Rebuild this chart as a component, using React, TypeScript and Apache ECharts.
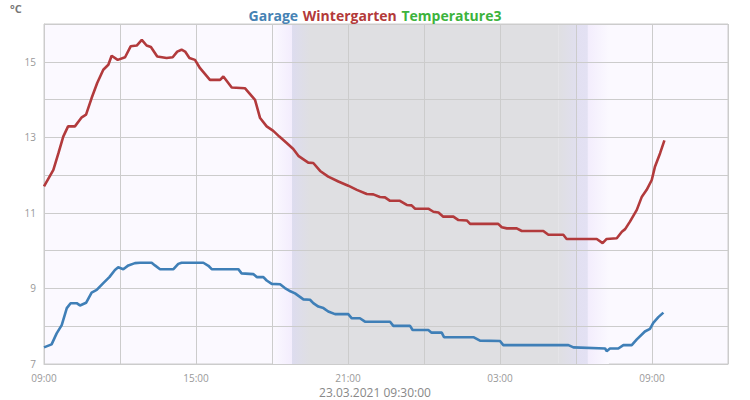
import * as echarts from "echarts"
import { useEffect, useRef } from "react"

const START = Date.UTC(2021, 2, 22, 9, 0)
const END = Date.UTC(2021, 2, 23, 12, 0)
const HOUR = 3_600_000

const seriesNames = ["Garage", "Wintergarten", "Temperature3"]
const timestampLabel = "23.03.2021 09:30:00"

// hours after 22.03. 09:00
const garageHours = [
  0, 0.3, 0.5, 0.7, 0.9, 1.05, 1.29, 1.42, 1.66, 1.88, 2.08, 2.34, 2.58, 2.8,
  2.93, 3.13, 3.33, 3.59, 3.79, 4.25, 4.38, 4.58, 5.11, 5.3, 5.43, 6.29, 6.49,
  6.62, 7.67, 7.8, 8.26, 8.4, 8.66, 8.79, 8.99, 9.32, 9.51, 9.68, 9.91, 10.24,
  10.5, 10.63, 10.83, 11.03, 11.22, 11.49, 12.01, 12.15, 12.47, 12.67, 13.66,
  13.79, 14.45, 14.55, 15.17, 15.3, 15.7, 15.79, 16.95, 17.21, 18.0, 18.13,
  20.7, 20.9, 22.15, 22.21, 22.34, 22.67, 22.87, 23.2, 23.4, 23.72, 23.92,
  24.05, 24.25, 24.45,
]
const garageTemps = [
  7.44, 7.52, 7.81, 8.03, 8.48, 8.61, 8.61, 8.55, 8.62, 8.89, 8.96, 9.14, 9.3,
  9.49, 9.56, 9.51, 9.61, 9.67, 9.68, 9.68, 9.61, 9.51, 9.51, 9.65, 9.68, 9.68,
  9.6, 9.51, 9.51, 9.4, 9.38, 9.3, 9.3, 9.21, 9.12, 9.11, 9.01, 8.94, 8.87,
  8.71, 8.7, 8.61, 8.52, 8.48, 8.39, 8.32, 8.32, 8.21, 8.21, 8.12, 8.12, 8.01,
  8.01, 7.9, 7.9, 7.83, 7.83, 7.71, 7.71, 7.62, 7.61, 7.5, 7.5, 7.44, 7.41,
  7.34, 7.41, 7.41, 7.5, 7.5, 7.65, 7.86, 7.93, 8.09, 8.24, 8.36,
]

const wintergartenHours = [
  0, 0.37, 0.57, 0.76, 0.95, 1.22, 1.49, 1.66, 1.88, 2.1, 2.34, 2.54, 2.67,
  2.91, 3.2, 3.42, 3.66, 3.86, 4.05, 4.22, 4.47, 4.84, 5.08, 5.26, 5.43, 5.57,
  5.74, 5.96, 6.16, 6.55, 6.95, 7.08, 7.41, 7.93, 8.1, 8.33, 8.53, 8.79, 9.05,
  9.29, 9.58, 9.84, 10.04, 10.43, 10.63, 10.9, 11.22, 11.62, 12.01, 12.35,
  12.74, 13.0, 13.26, 13.46, 13.66, 14.05, 14.32, 14.51, 14.65, 15.17, 15.37,
  15.57, 15.76, 16.16, 16.36, 16.69, 16.82, 17.93, 18.07, 18.27, 18.66, 18.86,
  19.71, 19.91, 20.5, 20.63, 21.82, 22.05, 22.21, 22.61, 22.81, 22.94, 23.13,
  23.4, 23.6, 23.79, 23.99, 24.12, 24.32, 24.49,
]
const wintergartenTemps = [
  11.7, 12.14, 12.58, 13.02, 13.29, 13.29, 13.53, 13.6, 14.04, 14.44, 14.79,
  14.92, 15.16, 15.05, 15.12, 15.41, 15.43, 15.58, 15.43, 15.39, 15.14, 15.1,
  15.12, 15.27, 15.32, 15.27, 15.1, 15.05, 14.83, 14.52, 14.52, 14.61, 14.32,
  14.3, 14.17, 13.99, 13.51, 13.29, 13.17, 13.02, 12.85, 12.69, 12.51, 12.33,
  12.32, 12.11, 11.96, 11.83, 11.72, 11.61, 11.5, 11.49, 11.42, 11.41, 11.32,
  11.32, 11.21, 11.2, 11.11, 11.11, 11.03, 11.01, 10.9, 10.9, 10.81, 10.8,
  10.71, 10.71, 10.62, 10.59, 10.59, 10.52, 10.52, 10.42, 10.42, 10.31, 10.31,
  10.2, 10.31, 10.33, 10.5, 10.57, 10.77, 11.08, 11.43, 11.61, 11.87, 12.23,
  12.58, 12.92,
]

// night shading: [fromHour, toHour, leftColor, rightColor]
const nightBands: [number, number, string, string][] = [
  [9, 9.79, "#fbf9ff", "#f3edfd"],
  [9.79, 10.5, "#dddcef", "#dfdfe2"],
  [10.5, 20.3, "#dfdfe2", "#dfdfe2"],
  [20.3, 21, "#dfdfe2", "#e0dfee"],
  [21, 21.47, "#e2e0f2", "#e3e1f3"],
  [21.47, 22.3, "#f3edfd", "#fbf9ff"],
]

const toPoints = (hours: number[], temps: number[]) =>
  hours.map((h, i) => [START + h * HOUR, temps[i]])

const pad = (n: number) => String(n).padStart(2, "0")

const FONT = "'Open Sans', sans-serif"

export default function App() {
  const node = useRef<HTMLDivElement>(null)

  useEffect(() => {
    if (!node.current) return
    const chart = echarts.init(node.current, undefined, { renderer: "svg" })
    chart.setOption({
      animation: false,
      textStyle: { fontFamily: FONT },
      title: {
        text: `{a|${seriesNames[0]}} {b|${seriesNames[1]}} {c|${seriesNames[2]}}`,
        left: "center",
        top: 1,
        textStyle: {
          rich: {
            a: { color: "#4682b4", fontSize: 14, fontWeight: "bold", fontFamily: FONT },
            b: { color: "#b33a3a", fontSize: 14, fontWeight: "bold", fontFamily: FONT },
            c: { color: "#3cb33c", fontSize: 14, fontWeight: "bold", fontFamily: FONT },
          },
        },
      },
      graphic: [
        {
          type: "text",
          left: 10,
          top: 3,
          style: { text: "°C", fill: "#777", font: `bold 11px ${FONT}` },
        },
        {
          type: "text",
          left: "center",
          top: 386,
          style: { text: timestampLabel, fill: "#888", font: `12px ${FONT}` },
        },
      ],
      grid: {
        left: 44,
        right: 22,
        top: 24,
        bottom: 36,
        show: true,
        backgroundColor: "#fbf9ff",
        borderColor: "#cccccc",
        borderWidth: 1,
      },
      xAxis: {
        type: "value",
        min: START,
        max: END,
        interval: 3 * HOUR,
        z: 3,
        axisLine: { lineStyle: { color: "#cccccc" } },
        axisTick: { show: false },
        axisLabel: {
          color: "#999",
          fontSize: 10,
          margin: 8,
          lineHeight: 11,
          showMaxLabel: false,
          formatter: (v: number) => {
            const d = new Date(v)
            const h = d.getUTCHours()
            if ((h - 9 + 24) % 6 !== 0) return ""
            return `${pad(h)}:${pad(d.getUTCMinutes())}`
          },
        },
        splitLine: { show: true, lineStyle: { color: "#cccccc" } },
      },
      yAxis: {
        type: "value",
        min: 7,
        max: 16,
        interval: 1,
        z: 3,
        axisLine: { show: true, lineStyle: { color: "#cccccc" } },
        axisTick: { show: false },
        axisLabel: {
          color: "#999",
          fontSize: 10,
          lineHeight: 11,
          margin: 8,
          formatter: (v: number) => (v % 2 === 1 ? String(v) : ""),
        },
        splitLine: { lineStyle: { color: "#cccccc" } },
      },
      series: [
        {
          name: seriesNames[2],
          type: "line",
          z: 1,
          data: [],
          silent: true,
          markArea: {
            silent: true,
            data: nightBands.map(([from, to, c1, c2]) => [
              {
                xAxis: START + from * HOUR,
                yAxis: 7,
                itemStyle: {
                  color: new echarts.graphic.LinearGradient(0, 0, 1, 0, [
                    { offset: 0, color: c1 },
                    { offset: 1, color: c2 },
                  ]),
                },
              },
              { xAxis: START + to * HOUR, yAxis: 16 },
            ]),
          },
        },
        {
          name: seriesNames[0],
          type: "line",
          z: 5,
          showSymbol: false,
          data: toPoints(garageHours, garageTemps),
          lineStyle: { color: "#3f7fb7", width: 2.6 },
          itemStyle: { color: "#3f7fb7" },
        },
        {
          name: seriesNames[1],
          type: "line",
          z: 5,
          showSymbol: false,
          data: toPoints(wintergartenHours, wintergartenTemps),
          lineStyle: { color: "#b23a3c", width: 2.6 },
          itemStyle: { color: "#b23a3c" },
        },
      ],
    })
    return () => chart.dispose()
  }, [])

  return (
    <div
      ref={node}
      style={{ position: "absolute", left: 0, top: 0, width: 750, height: 400 }}
    />
  )
}
